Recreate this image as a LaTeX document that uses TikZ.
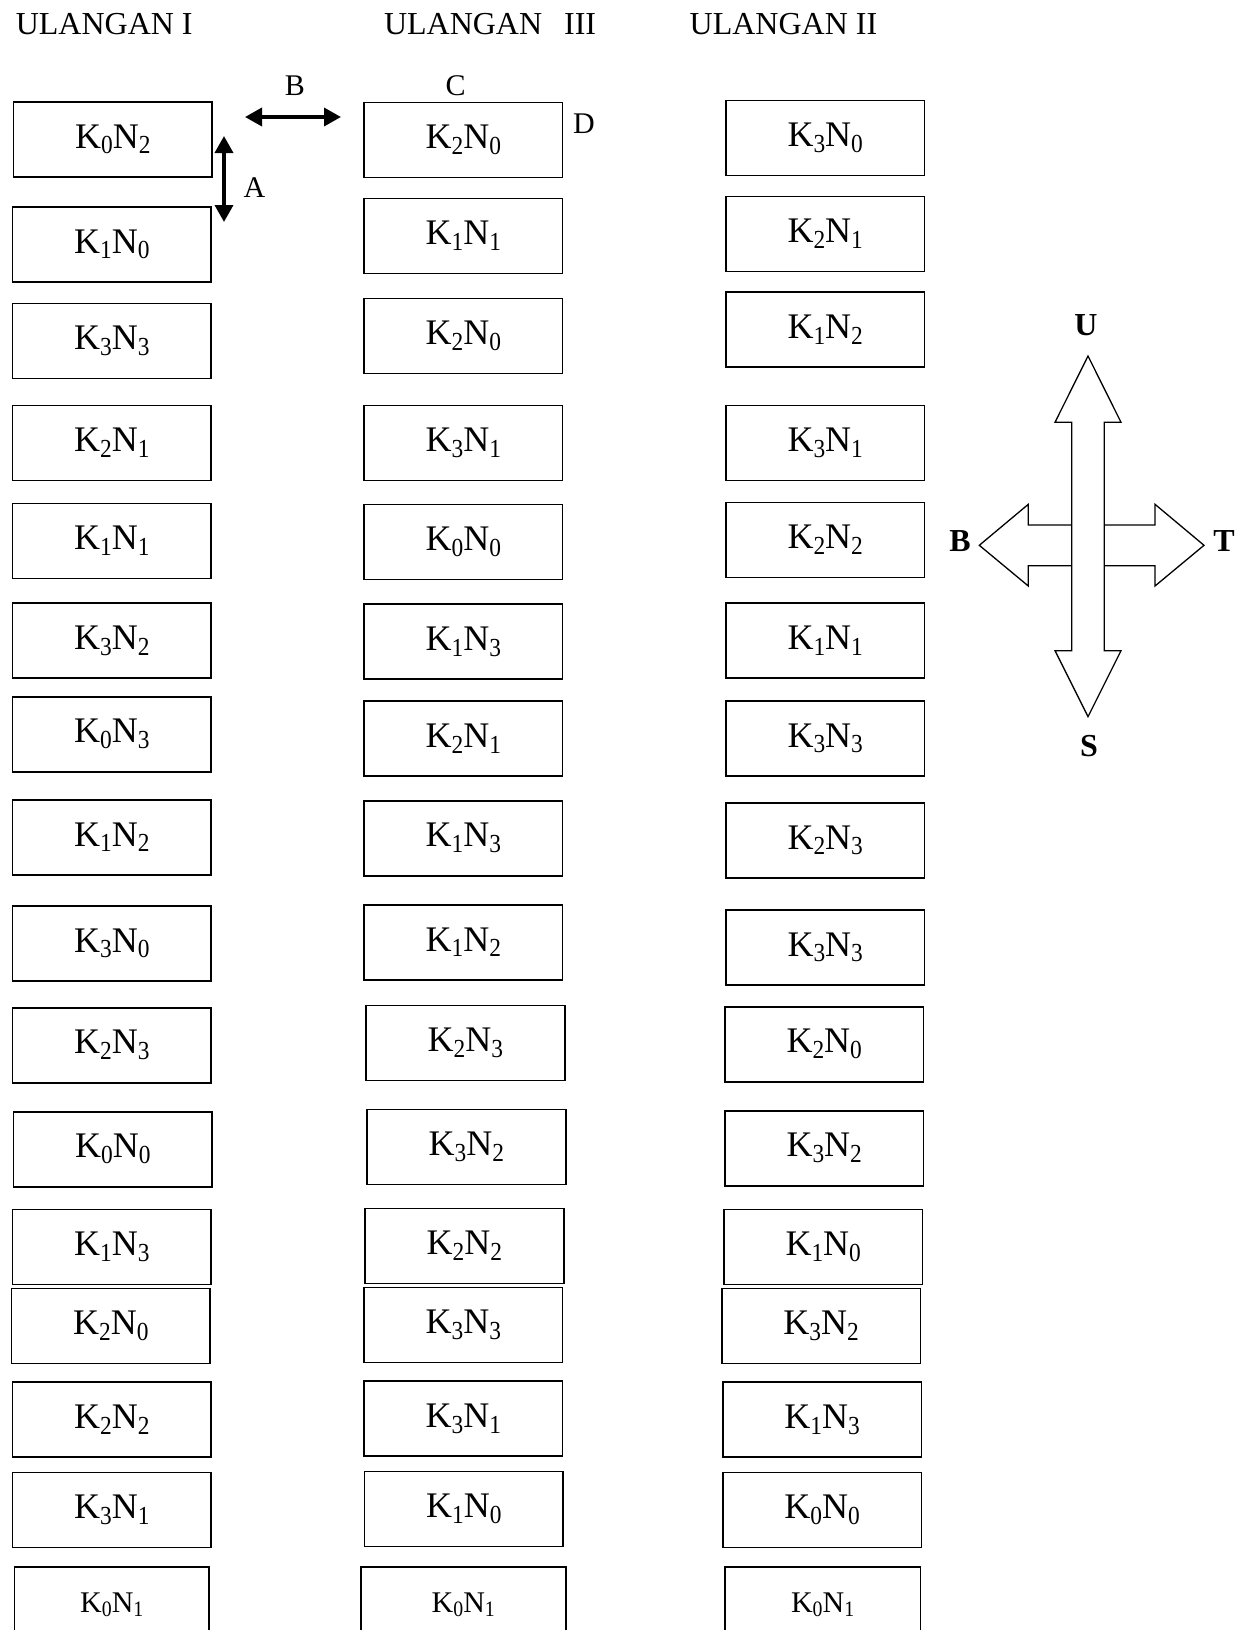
\documentclass[tikz,border=0pt]{standalone}
\usepackage{fontspec}
\setmainfont{Liberation Serif}
\usetikzlibrary{arrows.meta}
\newcommand\subdig[3]{\raisebox{-#3}{\fontsize{#2}{#2}\selectfont\scalebox{0.9}[1]{#1}}}
\newcommand\KN[2]{K\subdig{#1}{26}{5.8pt}N\subdig{#2}{26}{5.8pt}}
\newcommand\KNs[2]{K\subdig{#1}{22}{4.8pt}N\subdig{#2}{22}{4.8pt}}
\begin{document}
\begin{tikzpicture}[x=1pt,y=-1pt,
  cell/.style={draw, line width=1.6pt, minimum width=198.6pt, minimum height=75pt, inner sep=0pt, font=\fontsize{36}{40}\selectfont},
  lastcell/.style={cell, font=\fontsize{30}{34}\selectfont},
  title/.style={anchor=base west, inner sep=0pt, font=\fontsize{32}{36}\selectfont},
  lbl/.style={inner sep=0pt, font=\fontsize{30}{34}\selectfont},
  compasslbl/.style={inner sep=0pt, font=\fontsize{32}{36}\selectfont\bfseries},
  dbl/.style={line width=3.5pt, {Triangle[length=17pt,width=18pt]}-{Triangle[length=17pt,width=18pt]}},
  comp/.style={line width=1.3pt, line join=miter}]
\useasboundingbox (0,0) rectangle (1249,1630);

% titles
\node[title] (t1) at (15.6,34.3) {ULANGAN I};
\node[title] (t3) at (383.8,34.3) {ULANGAN\hspace{22pt}III};
\node[title] (t2) at (689.5,34.3) {ULANGAN II};

% column 1 (Ulangan I)
\node[cell] (a1) at (112.8,139.4) {\KN02};
\node[cell] (a2) at (111.8,244.4) {\KN10};
\node[cell] (a3) at (111.8,341.1) {\KN33};
\node[cell] (a4) at (111.8,443) {\KN21};
\node[cell] (a5) at (111.8,540.8) {\KN11};
\node[cell] (a6) at (111.8,640.6) {\KN32};
\node[cell] (a7) at (111.8,734.2) {\KN03};
\node[cell] (a8) at (111.8,837.2) {\KN12};
\node[cell] (a9) at (111.8,943.3) {\KN30};
\node[cell] (a10) at (111.8,1045.2) {\KN23};
\node[cell] (a11) at (112.8,1149.2) {\KN00};
\node[cell] (a12) at (111.8,1246.9) {\KN13};
\node[cell] (a13) at (110.8,1326) {\KN20};
\node[cell] (a14) at (111.8,1419.6) {\KN22};
\node[cell] (a15) at (111.8,1510) {\KN31};
\node[lastcell, minimum width=194.5pt] (a16) at (111.8,1604.7) {\KNs01};

% column 2 (Ulangan III)
\node[cell] (b1) at (463.3,139.9) {\KN20};
\node[cell] (b2) at (463.3,236.1) {\KN11};
\node[cell] (b3) at (463.3,335.9) {\KN20};
\node[cell] (b4) at (463.3,443) {\KN31};
\node[cell] (b5) at (463.3,541.8) {\KN00};
\node[cell] (b6) at (463.3,641.7) {\KN13};
\node[cell] (b7) at (463.3,738.4) {\KN21};
\node[cell] (b8) at (463.3,838.2) {\KN13};
\node[cell] (b9) at (463.3,942.2) {\KN12};
\node[cell] (b10) at (465.4,1043.1) {\KN23};
\node[cell] (b11) at (466.4,1147.1) {\KN32};
\node[cell] (b12) at (464.4,1245.9) {\KN22};
\node[cell] (b13) at (463.3,1325) {\KN33};
\node[cell] (b14) at (463.3,1418.6) {\KN31};
\node[cell] (b15) at (463.8,1509) {\KN10};
\node[lastcell, minimum width=205pt] (b16) at (463.3,1604.7) {\KNs01};

% column 3 (Ulangan II)
\node[cell] (c1) at (825.2,137.8) {\KN30};
\node[cell] (c2) at (825.2,234) {\KN21};
\node[cell] (c3) at (825.2,329.7) {\KN12};
\node[cell] (c4) at (825.2,443) {\KN31};
\node[cell] (c5) at (825.2,539.8) {\KN22};
\node[cell] (c6) at (825.2,640.6) {\KN11};
\node[cell] (c7) at (825.2,738.4) {\KN33};
\node[cell] (c8) at (825.2,840.3) {\KN23};
\node[cell] (c9) at (825.2,947.4) {\KN33};
\node[cell] (c10) at (824.2,1044.2) {\KN20};
\node[cell] (c11) at (824.2,1148.2) {\KN32};
\node[cell] (c12) at (823.2,1246.9) {\KN10};
\node[cell] (c13) at (821,1326) {\KN32};
\node[cell] (c14) at (822.1,1419.6) {\KN13};
\node[cell] (c15) at (822.1,1510) {\KN00};
\node[lastcell, minimum width=195.5pt] (c16) at (822.6,1604.7) {\KNs01};

% spacing arrows
\coordinate (hb1) at (245,117);
\coordinate (hb2) at (341,117);
\coordinate (va1) at (224,136);
\coordinate (va2) at (224,222);
\draw[dbl] (hb1) -- (hb2);
\draw[dbl] (va1) -- (va2);
\node[lbl] (lA) at (254.5,188) {A};
\node[lbl] (lB) at (295,86) {B};
\node[lbl] (lC) at (455.5,86) {C};
\node[lbl] (lD) at (584,124) {D};

% compass
\draw[comp] (1088,356) -- (1121,422.3) -- (1104.3,422.3) -- (1104.3,650.7) -- (1121,650.7) -- (1088,716.7) -- (1055,650.7) -- (1071.7,650.7) -- (1071.7,422.3) -- (1055,422.3) -- cycle;
\draw[comp] (1071.7,525) -- (1028.3,525) -- (1028.3,504.3) -- (979.3,545.3) -- (1028.3,586) -- (1028.3,565.7) -- (1071.7,565.7);
\draw[comp] (1104.3,525) -- (1155,525) -- (1155,504.3) -- (1204,545.3) -- (1155,586) -- (1155,565.7) -- (1104.3,565.7);
\node[compasslbl] (dU) at (1086,325) {U};
\node[compasslbl] (dS) at (1089,746) {S};
\node[compasslbl] (dB) at (960,541) {B};
\node[compasslbl] (dT) at (1224,541) {T};
\end{tikzpicture}
\end{document}
